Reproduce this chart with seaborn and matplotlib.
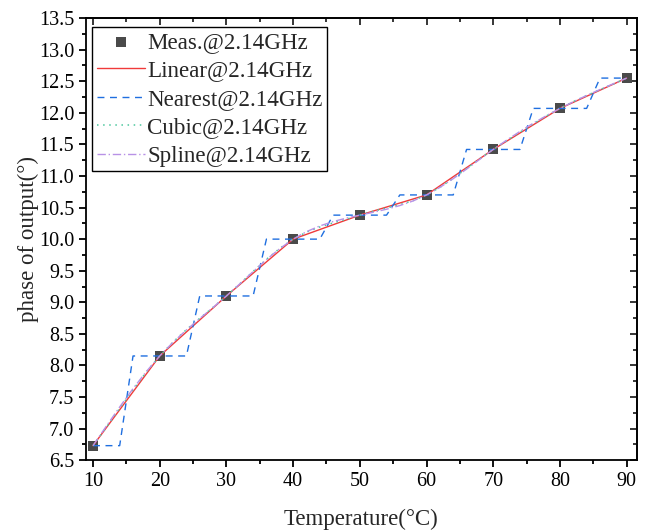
import numpy as np
import pandas as pd
import matplotlib
matplotlib.use("Agg")
import matplotlib.pyplot as plt
import seaborn as sns
from matplotlib.ticker import MultipleLocator, FormatStrFormatter

# measured phase at 2.14 GHz
temps = [10, 20, 30, 40, 50, 60, 70, 80, 90]
phase = [6.73, 8.15, 9.10, 10.00, 10.38, 10.70, 11.42, 12.07, 12.55]


def natural_spline(x, y, xs):
    x = np.asarray(x, float)
    y = np.asarray(y, float)
    n = len(x)
    h = np.diff(x)
    A = np.zeros((n, n))
    b = np.zeros(n)
    A[0, 0] = A[-1, -1] = 1
    for i in range(1, n - 1):
        A[i, i - 1] = h[i - 1]
        A[i, i] = 2 * (h[i - 1] + h[i])
        A[i, i + 1] = h[i]
        b[i] = 3 * ((y[i + 1] - y[i]) / h[i] - (y[i] - y[i - 1]) / h[i - 1])
    c = np.linalg.solve(A, b)
    idx = np.clip(np.searchsorted(x, xs) - 1, 0, n - 2)
    dx = xs - x[idx]
    bb = (y[idx + 1] - y[idx]) / h[idx] - h[idx] * (2 * c[idx] + c[idx + 1]) / 3
    d = (c[idx + 1] - c[idx]) / (3 * h[idx])
    return y[idx] + bb * dx + c[idx] * dx ** 2 + d * dx ** 3


def hermite_cubic(x, y, xs):
    x = np.asarray(x, float)
    y = np.asarray(y, float)
    m = np.gradient(y, x)
    idx = np.clip(np.searchsorted(x, xs) - 1, 0, len(x) - 2)
    h = x[idx + 1] - x[idx]
    t = (xs - x[idx]) / h
    h00 = 2 * t ** 3 - 3 * t ** 2 + 1
    h10 = t ** 3 - 2 * t ** 2 + t
    h01 = -2 * t ** 3 + 3 * t ** 2
    h11 = t ** 3 - t ** 2
    return h00 * y[idx] + h10 * h * m[idx] + h01 * y[idx + 1] + h11 * h * m[idx + 1]


# interpolation grid (2 degree step, like the original export)
xs = np.arange(10, 91, 2.0)
t_arr = np.array(temps, float)
p_arr = np.array(phase, float)
nearest = p_arr[np.abs(xs[:, None] - t_arr[None, :]).argmin(axis=1)]

curves = pd.DataFrame({
    "T": xs,
    "Linear": np.interp(xs, t_arr, p_arr),
    "Nearest": nearest,
    "Cubic": hermite_cubic(t_arr, p_arr, xs),
    "Spline": natural_spline(t_arr, p_arr, xs),
})
meas = pd.DataFrame({"T": temps, "phase": phase})

sns.set_theme(style="ticks")
plt.rcParams["font.family"] = ["Liberation Serif", "DejaVu Serif"]

fig = plt.figure(figsize=(6.49, 5.32), dpi=100)
ax = fig.add_axes([0.1325, 0.135, 0.8485, 0.831])

sns.scatterplot(data=meas, x="T", y="phase", ax=ax, marker="s", s=60,
                color="#4a4a4a", edgecolor="#4a4a4a", linewidth=0,
                label="Meas.@2.14GHz", zorder=2)
sns.lineplot(data=curves, x="T", y="Linear", ax=ax, color="#f03a3a", lw=1.0,
             label="Linear@2.14GHz", zorder=3)
sns.lineplot(data=curves, x="T", y="Nearest", ax=ax, color="#1f6fe0", lw=1.0,
             label="Nearest@2.14GHz", zorder=3)
ax.lines[-1].set_linestyle((0, (5, 4)))
sns.lineplot(data=curves, x="T", y="Cubic", ax=ax, color="#4cc79e", lw=1.1,
             label="Cubic@2.14GHz", zorder=3)
ax.lines[-1].set_linestyle((0, (1, 3)))
sns.lineplot(data=curves, x="T", y="Spline", ax=ax, color="#b892e6", lw=1.0,
             label="Spline@2.14GHz", zorder=3)
ax.lines[-1].set_linestyle((0, (6, 2, 1, 2)))

ax.set_xlim(8.95, 91.5)
ax.set_ylim(6.5, 13.5)
ax.xaxis.set_major_locator(MultipleLocator(10))
ax.xaxis.set_minor_locator(MultipleLocator(5))
ax.yaxis.set_major_locator(MultipleLocator(0.5))
ax.yaxis.set_minor_locator(MultipleLocator(0.25))
ax.yaxis.set_major_formatter(FormatStrFormatter("%.1f"))

for s in ax.spines.values():
    s.set_linewidth(1.3)
    s.set_color("black")
ax.tick_params(which="both", direction="out", width=1.3, labelsize=14.5,
               colors="black", top=False, right=False)
ax.tick_params(which="major", length=5)
ax.tick_params(which="minor", length=3)

# inward ticks on top and right, no labels
top = ax.secondary_xaxis("top")
top.xaxis.set_major_locator(MultipleLocator(10))
top.xaxis.set_minor_locator(MultipleLocator(5))
top.tick_params(which="both", direction="in", width=1.3, labeltop=False)
top.tick_params(which="major", length=5)
top.tick_params(which="minor", length=3)
right = ax.secondary_yaxis("right")
right.yaxis.set_major_locator(MultipleLocator(0.5))
right.yaxis.set_minor_locator(MultipleLocator(0.25))
right.tick_params(which="both", direction="in", width=1.3, labelright=False)
right.tick_params(which="major", length=5)
right.tick_params(which="minor", length=3)
for sec in (top, right):
    for s in sec.spines.values():
        s.set_linewidth(1.3)

ax.set_xlabel("Temperature(°C)", fontsize=16.5, labelpad=13)
ax.set_ylabel("phase of output(°)", fontsize=16.5, labelpad=0)

leg = ax.legend(loc="upper left", bbox_to_anchor=(0.011, 0.98),
                fontsize=16.6, frameon=True, fancybox=False,
                handlelength=2.1, handletextpad=0.1, borderpad=0.2,
                labelspacing=0.32, borderaxespad=0, framealpha=1)
leg.get_frame().set_edgecolor("black")
leg.get_frame().set_linewidth(1.0)

fig.savefig("out.png", dpi=100)
